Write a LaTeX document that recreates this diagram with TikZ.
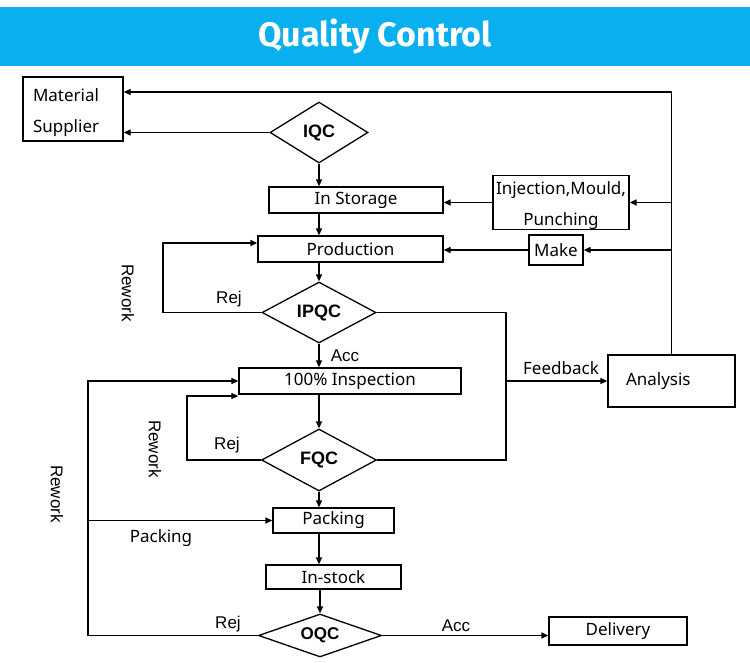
\documentclass[tikz,border=0pt]{standalone}
\usepackage{fontspec}
\setmainfont{Noto Sans}
\newfontfamily\arialf{Liberation Sans}
\newfontfamily\titlef{Fira Sans}
\usetikzlibrary{shapes.geometric,arrows.meta}
\definecolor{banner}{RGB}{10,175,240}
\begin{document}
\begin{tikzpicture}[x=1pt,y=-1pt,
  line width=1.3pt,
  arr/.style={-{Triangle[length=7pt,width=6pt]}},
  boxn/.style={draw,rectangle,inner sep=0pt,font=\fontsize{17}{31}\selectfont},
  dia/.style={draw,diamond,inner sep=0pt,aspect=1.6,font=\arialf\bfseries\fontsize{18}{18}\selectfont},
  lbl/.style={inner sep=0pt,font=\arialf\fontsize{17}{17}\selectfont},
  lblb/.style={inner sep=0pt,font=\fontsize{17}{17}\selectfont},
  rw/.style={inner sep=0pt,rotate=-90,font=\arialf\fontsize{17}{17}\selectfont}]
\useasboundingbox (0,0) rectangle (750,662);
\fill[white] (0,0) rectangle (750,662);
\fill[banner] (0,7) rectangle (750,66);
\node[text=white,font=\titlef\bfseries\fontsize{34}{34}\selectfont] (title) at (375,36) {Quality Control};

% boxes
\node[boxn,minimum width=100pt,minimum height=64pt,text width=80pt,inner xsep=10pt,align=left] (mat) at (73,109) {\rule{0pt}{21pt}Material\\Supplier};
\node[boxn,minimum width=174pt,minimum height=26pt] (stor) at (356,200) {In Storage};
\node[boxn,minimum width=185pt,minimum height=26pt] (prod) at (350.5,249) {Production};
\node[boxn,minimum width=136pt,minimum height=51pt,text width=132pt,inner xsep=2pt,align=center] (inj) at (561,202.5) {\rule{0pt}{19pt}Injection,Mould,\\Punching};
\node[boxn,minimum width=54pt,minimum height=30pt] (make) at (556,250) {Make};
\node[boxn,minimum width=222pt,minimum height=26pt] (insp) at (350,381) {100\% Inspection};
\node[boxn,minimum width=127pt,minimum height=52pt,text width=91pt,inner xsep=18pt,align=left] (anal) at (671.5,381) {Analysis};
\node[boxn,minimum width=121pt,minimum height=25pt] (pack) at (333.5,520.5) {Packing};
\node[boxn,minimum width=135pt,minimum height=24pt] (stock) at (333.5,577) {In-stock};
\node[boxn,minimum width=138pt,minimum height=28pt] (deliv) at (618,631) {Delivery};

% diamonds
\node[dia,minimum width=98pt,minimum height=61pt] (iqc) at (319,132.5) {IQC};
\node[dia,minimum width=114pt,minimum height=61pt] (ipqc) at (319,312.5) {IPQC};
\node[dia,minimum width=115pt,minimum height=62pt] (fqc) at (319,460) {FQC};
\node[dia,minimum width=123pt,minimum height=43pt,font=\arialf\bfseries\fontsize{17}{17}\selectfont] (oqc) at (320,635.5) {OQC};

% helper coordinates
\coordinate (topy) at (0,92);
\coordinate (fbx) at (506,0);
\coordinate (c1) at (163,243);
\coordinate (c2) at (187,396);
\coordinate (c3) at (88,381);

% main flow
\draw[arr] (iqc.south) -- (iqc.south |- stor.north);
\draw[arr] (iqc.south |- stor.south) -- (iqc.south |- prod.north);
\draw[arr] (iqc.south |- prod.south) -- (ipqc.north);
\draw[arr] (ipqc.south) -- (ipqc.south |- insp.north);
\draw[arr] (ipqc.south |- insp.south) -- (fqc.north);
\draw[arr] (fqc.south) -- (fqc.south |- pack.north);
\draw[arr] (fqc.south |- pack.south) -- (fqc.south |- stock.north);
\draw[arr] (oqc.north |- stock.south) -- (oqc.north);
\draw[arr] (oqc.east) -- (oqc.east -| deliv.west);

% supplier loops
\draw[arr] (iqc.west) -- (iqc.west -| mat.east);
\draw[arr] (anal.north) |- (mat.east |- topy);
\draw[arr] (anal.north |- inj.east) -- (inj.east);
\draw[arr] (anal.north |- make.east) -- (make.east);
\draw[arr] (inj.west) -- (inj.west -| stor.east);
\draw[arr] (make.west) -- (make.west -| prod.east);

% feedback
\draw (ipqc.east) -| (fbx |- fqc.east) -- (fqc.east);
\draw[arr] (fbx |- anal.west) -- (anal.west);

% rework loops
\draw[arr] (ipqc.west) -| (c1) -- (c1 -| prod.west);
\draw[arr] (fqc.west) -| (c2) -- (c2 -| insp.west);
\draw[arr] (oqc.west) -| (c3) -- (insp.west);
\draw[arr] (c3 |- pack.west) -- (pack.west);

% labels
\node[lbl] (rej1) at (229,299) {Rej};
\node[rw] (rw1) at (128,293) {Rework};
\node[lbl] (acc1) at (345,356) {Acc};
\node[lbl] (rej2) at (227,445) {Rej};
\node[rw] (rw2) at (155,449) {Rework};
\node[rw] (rw3) at (57,494) {Rework};
\node[lbl] (rej3) at (228,624) {Rej};
\node[lbl] (acc2) at (456,626) {Acc};
\node[lblb] (fbl) at (561,368) {Feedback};
\node[lblb] (pkl) at (161,538) {Packing};
\end{tikzpicture}
\end{document}
